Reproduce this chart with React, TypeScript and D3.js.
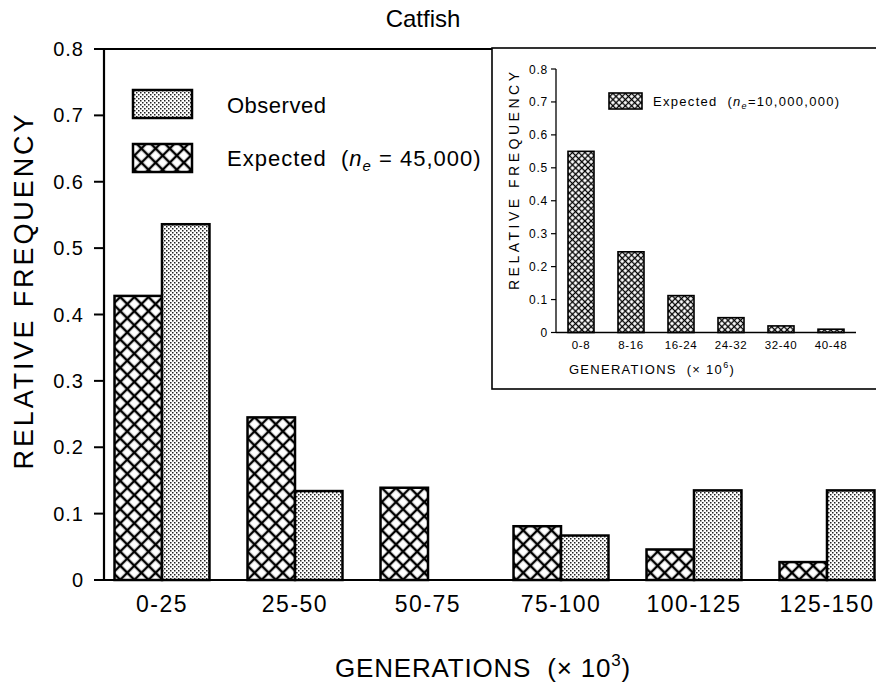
import React from "react";
import * as d3 from "d3";

const categories = ["0-25", "25-50", "50-75", "75-100", "100-125", "125-150"];
const expectedValues = [0.428, 0.245, 0.139, 0.081, 0.046, 0.027];
const observedValues = [0.536, 0.134, 0, 0.067, 0.135, 0.135];
const yTicks = [0, 0.1, 0.2, 0.3, 0.4, 0.5, 0.6, 0.7, 0.8];
const yTickLabels = ["0", "0.1", "0.2", "0.3", "0.4", "0.5", "0.6", "0.7", "0.8"];

const insetCategories = ["0-8", "8-16", "16-24", "24-32", "32-40", "40-48"];
const insetExpected = [0.55, 0.245, 0.112, 0.045, 0.02, 0.01];
const insetTicks = [0, 0.1, 0.2, 0.3, 0.4, 0.5, 0.6, 0.7, 0.8];
const insetTickLabels = ["0", "0.1", "0.2", "0.3", "0.4", "0.5", "0.6", "0.7", "0.8"];

const W = 876;
const H = 685;
const FONT = "'Liberation Sans', Arial, sans-serif";

export default function App() {
  // main scales
  const x = d3
    .scaleBand<string>()
    .domain(categories)
    .range([95.5, 893.5])
    .paddingInner(0.286)
    .paddingOuter(0.143);
  const y = d3.scaleLinear().domain([0, 0.8]).range([580, 49]);
  const bw = x.bandwidth() / 2;

  // inset scales
  const xi = d3
    .scaleBand<string>()
    .domain(insetCategories)
    .range([556, 856])
    .paddingInner(0.48)
    .paddingOuter(0.24);
  const yi = d3.scaleLinear().domain([0, 0.8]).range([332.5, 69]);

  const axisX = 104;
  const insetAxisX = 556;
  const pre = { whiteSpace: "pre" as const };

  return (
    <div style={{ position: "fixed", left: 0, top: 0, width: W, height: H, background: "#fff" }}>
      <svg width={W} height={H} style={{ display: "block" }} fontFamily={FONT}>
        <defs>
          <pattern id="dots" width={4} height={4} patternUnits="userSpaceOnUse">
            <rect width={4} height={4} fill="#fff" />
            <rect x={0} y={0} width={1.5} height={1.5} fill="#222" />
            <rect x={2} y={2} width={1.5} height={1.5} fill="#222" />
          </pattern>
          <pattern
            id="hatch"
            width={10}
            height={10}
            patternUnits="userSpaceOnUse"
            patternTransform="rotate(45)"
          >
            <rect width={10} height={10} fill="#fff" />
            <path d="M5,0V10M0,5H10" stroke="#000" strokeWidth={2.4} />
          </pattern>
          <pattern
            id="hatchFine"
            width={4.4}
            height={4.4}
            patternUnits="userSpaceOnUse"
            patternTransform="rotate(45)"
          >
            <rect width={4.4} height={4.4} fill="#fff" />
            <path d="M2.2,0V4.4M0,2.2H4.4" stroke="#000" strokeWidth={1.3} />
          </pattern>
        </defs>

        <rect width={W} height={H} fill="#fff" />

        {/* title */}
        <text x={423} y={27} fontSize={24} textAnchor="middle">
          Catfish
        </text>

        {/* main bars */}
        {categories.map((c, i) => (
          <g key={c}>
            {expectedValues[i] > 0 && (
              <rect
                x={x(c)!}
                y={y(expectedValues[i])}
                width={bw}
                height={y(0) - y(expectedValues[i])}
                fill="url(#hatch)"
                stroke="#000"
                strokeWidth={2.5}
              />
            )}
            {observedValues[i] > 0 && (
              <rect
                x={x(c)! + bw}
                y={y(observedValues[i])}
                width={bw}
                height={y(0) - y(observedValues[i])}
                fill="url(#dots)"
                stroke="#000"
                strokeWidth={2.5}
              />
            )}
          </g>
        ))}

        {/* axes */}
        <line x1={axisX} x2={axisX} y1={y(0.8)} y2={y(0)} stroke="#000" strokeWidth={2.2} />
        <line x1={94} x2={W} y1={y(0)} y2={y(0)} stroke="#000" strokeWidth={2.2} />
        <line x1={95} x2={W} y1={y(0.8)} y2={y(0.8)} stroke="#000" strokeWidth={2.2} />
        {yTicks.map((t, i) => (
          <g key={t}>
            <line x1={94} x2={axisX} y1={y(t)} y2={y(t)} stroke="#000" strokeWidth={2} />
            <text x={84} y={y(t) + 7} fontSize={20} letterSpacing={1} textAnchor="end">
              {yTickLabels[i]}
            </text>
          </g>
        ))}
        {categories.map((c) => (
          <text
            key={c}
            x={x(c)! + bw}
            y={612}
            fontSize={23}
            letterSpacing={1.5}
            textAnchor="middle"
          >
            {c}
          </text>
        ))}

        {/* axis titles */}
        <text
          transform="translate(33,292) rotate(-90)"
          fontSize={27}
          textAnchor="middle"
          textLength={355}
          lengthAdjust="spacing"
        >
          RELATIVE FREQUENCY
        </text>
        <text x={483} y={677} fontSize={26} letterSpacing={0.8} textAnchor="middle" style={pre}>
          {"GENERATIONS  (× 10"}
          <tspan dy={-11} fontSize={17}>
            3
          </tspan>
          <tspan dy={11}>)</tspan>
        </text>

        {/* legend */}
        <rect x={133} y={90} width={59} height={28} fill="url(#dots)" stroke="#000" strokeWidth={2.5} />
        <rect x={133} y={144} width={59} height={28} fill="url(#hatch)" stroke="#000" strokeWidth={2.5} />
        <text x={227} y={113} fontSize={22} letterSpacing={0.5}>
          Observed
        </text>
        <text x={227} y={166} fontSize={22} letterSpacing={1} style={pre}>
          {"Expected  ("}
          <tspan fontStyle="italic">n</tspan>
          <tspan fontStyle="italic" fontSize={15} dy={5}>
            e
          </tspan>
          <tspan dy={-5}>{" = 45,000)"}</tspan>
        </text>

        {/* inset */}
        <rect x={492} y={48} width={W - 492 + 5} height={389 - 48} fill="#fff" stroke="#000" strokeWidth={1.6} />
        {insetCategories.map((c, i) => (
          <rect
            key={c}
            x={xi(c)!}
            y={yi(insetExpected[i])}
            width={xi.bandwidth()}
            height={yi(0) - yi(insetExpected[i])}
            fill="url(#hatchFine)"
            stroke="#000"
            strokeWidth={1.6}
          />
        ))}
        <line x1={insetAxisX} x2={insetAxisX} y1={yi(0.8)} y2={yi(0)} stroke="#000" strokeWidth={1.3} />
        <line x1={insetAxisX} x2={856} y1={yi(0)} y2={yi(0)} stroke="#000" strokeWidth={1.3} />
        {insetTicks.map((t, i) => (
          <g key={t}>
            <line x1={551} x2={insetAxisX} y1={yi(t)} y2={yi(t)} stroke="#000" strokeWidth={1.2} />
            <text x={548} y={yi(t) + 4.5} fontSize={12} letterSpacing={0.8} textAnchor="end">
              {insetTickLabels[i]}
            </text>
          </g>
        ))}
        {insetCategories.map((c) => (
          <text
            key={c}
            x={xi(c)! + xi.bandwidth() / 2}
            y={349}
            fontSize={11.5}
            letterSpacing={0.6}
            textAnchor="middle"
          >
            {c}
          </text>
        ))}
        <text x={652} y={374} fontSize={13} letterSpacing={1.3} textAnchor="middle" style={pre}>
          {"GENERATIONS  (× 10"}
          <tspan dy={-6} fontSize={9}>
            6
          </tspan>
          <tspan dy={6}>)</tspan>
        </text>
        <text
          transform="translate(519,181) rotate(-90)"
          fontSize={14}
          textAnchor="middle"
          textLength={218}
          lengthAdjust="spacing"
        >
          RELATIVE FREQUENCY
        </text>
        <rect x={609} y={93} width={33} height={16} fill="url(#hatchFine)" stroke="#000" strokeWidth={1.6} />
        <text x={653} y={106} fontSize={13} letterSpacing={1.3} style={pre}>
          {"Expected  ("}
          <tspan fontStyle="italic">n</tspan>
          <tspan fontStyle="italic" fontSize={9} dy={3}>
            e
          </tspan>
          <tspan dy={-3}>=10,000,000)</tspan>
        </text>
      </svg>
    </div>
  );
}
